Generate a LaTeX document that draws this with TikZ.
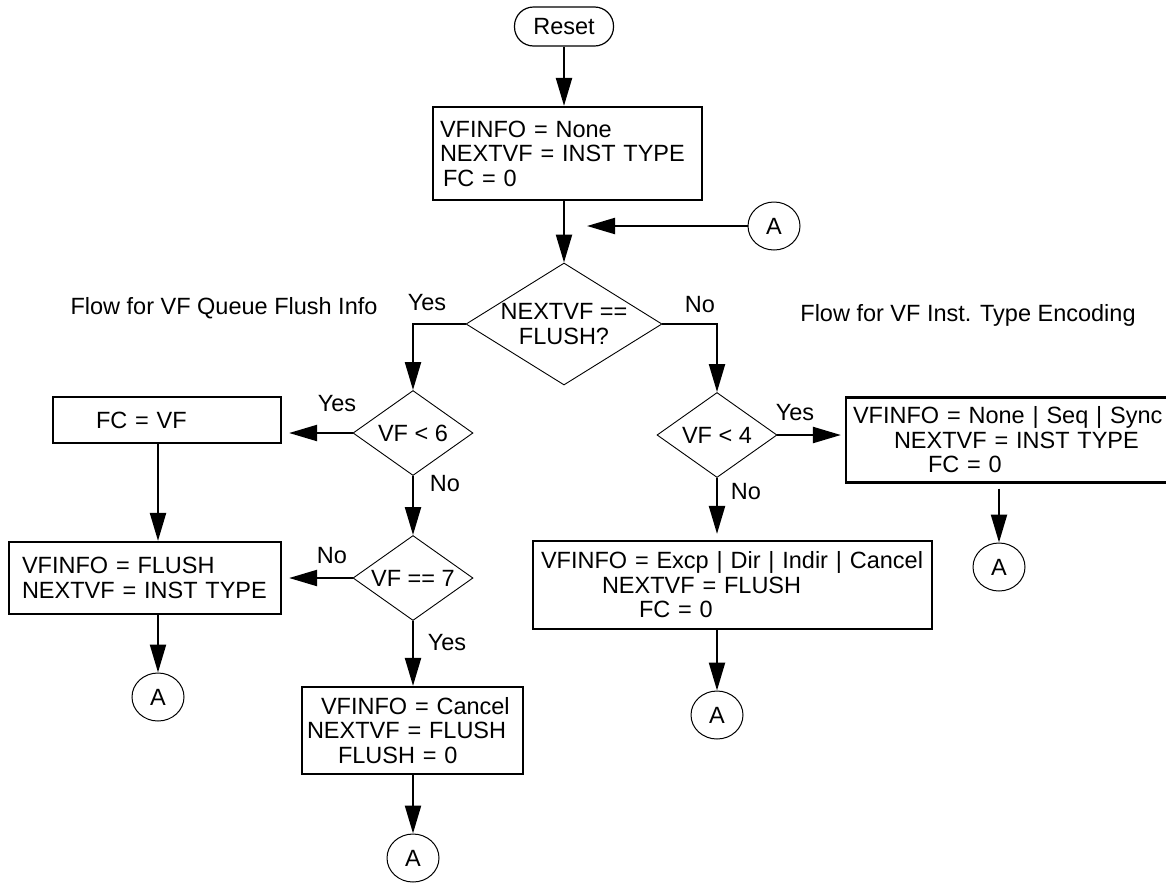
\documentclass[tikz,border=0pt]{standalone}
\usepackage{fontspec}
\setmainfont{Liberation Sans}
\usetikzlibrary{arrows.meta, shapes.geometric, calc}

% push a box line to the right by #1 points
\newcommand{\pushin}[1]{\hspace*{#1pt}}

\tikzset{
    flowarrow/.style={-{Triangle[length=28pt, width=16pt]}, line width=2.2pt},
    procbox/.style={draw, rectangle, line width=2.2pt, align=left, inner ysep=0pt},
    decide/.style={draw, diamond, aspect=1.4, line width=0.9pt, align=center, inner sep=0pt},
    joint/.style={draw, ellipse, line width=1pt, minimum width=52pt, minimum height=48pt, inner sep=0pt},
    lbl/.style={inner sep=0pt}
}

\begin{document}
\begin{tikzpicture}[x=1pt, y=-1pt, font=\fontsize{23.5}{24.5}\selectfont]
    % Same frame as the original page
    \useasboundingbox (0, 0) rectangle (1166, 884);

    % ----------------------------------------------------
    % TOP: Reset and common start
    % ----------------------------------------------------
    \node[draw, line width=1.2pt, rounded corners=19pt, minimum width=99pt, minimum height=39pt, inner sep=0pt] (reset) at (564, 26.5) {Reset};

    \node[procbox, text width=255pt, inner xsep=7pt, minimum height=93pt] (init) at (567.5, 153.5)
        {VFINFO = None\\NEXTVF = INST TYPE\\\pushin{3}FC = 0};

    \node[joint] (aback) at (774, 226) {A};
    \coordinate (merge) at (587, 226);

    \node[decide, aspect=1.6, minimum width=196pt, minimum height=122pt] (flushq) at (564, 324) {NEXTVF ==\\FLUSH?};

    \draw[flowarrow] (reset) -- (reset |- init.north);
    \draw[flowarrow] (init.south -| flushq) -- (flushq);
    \draw[flowarrow] (aback) -- (merge);

    % ----------------------------------------------------
    % LEFT: Flow for VF Queue Flush Info
    % ----------------------------------------------------
    \node[lbl] (titleleft) at (224, 308) {Flow for VF Queue Flush Info};

    \node[decide, minimum width=120pt, minimum height=85pt] (lt6) at (413, 433) {VF < 6};
    \node[decide, minimum width=120pt, minimum height=85pt] (eq7) at (413, 578) {VF == 7};

    \node[procbox, text width=142pt, inner xsep=43pt, minimum height=46pt] (setfc) at (167, 420) {FC = VF};
    \node[procbox, text width=254pt, inner xsep=9pt, minimum height=72pt] (setflush) at (145, 578)
        {\pushin{4}VFINFO = FLUSH\\\pushin{4}NEXTVF = INST TYPE};
    \node[procbox, text width=211pt, inner xsep=5pt, minimum height=87pt] (setcancel) at (412.5, 730.5)
        {\pushin{14}VFINFO = Cancel\\NEXTVF = FLUSH\\\pushin{31}FLUSH = 0};

    \node[joint] (aflush) at (158, 697) {A};
    \node[joint] (acancel) at (413, 858) {A};

    \draw[flowarrow] (flushq.west) -| (lt6);
    \draw[flowarrow, shorten >=7pt] (lt6.west) -- (lt6.west -| setfc.east);
    \draw[flowarrow] (lt6) -- (eq7);
    \draw[flowarrow, shorten >=7pt] (eq7.west) -- (eq7.west -| setflush.east);
    \draw[flowarrow] (setfc.south -| aflush) -- (setflush.north -| aflush);
    \draw[flowarrow] (setflush.south -| aflush) -- (aflush);
    \draw[flowarrow] (eq7) -- (eq7 |- setcancel.north);
    \draw[flowarrow] (setcancel.south -| acancel) -- (acancel);

    \node[lbl] (yesq) at (427, 303) {Yes};
    \node[lbl] (yes6) at (337, 404) {Yes};
    \node[lbl] (no6) at (445, 484) {No};
    \node[lbl] (no7) at (332, 556) {No};
    \node[lbl] (yes7) at (447, 643) {Yes};

    % ----------------------------------------------------
    % RIGHT: Flow for VF Inst. Type Encoding
    % ----------------------------------------------------
    \node[lbl] (titleright) at (968, 315) {Flow for VF Inst. Type Encoding};

    \node[decide, minimum width=120pt, minimum height=85pt] (lt4) at (717, 435) {VF < 4};

    \node[procbox, text width=314pt, inner xsep=4pt, minimum height=85pt] (setsync) at (1007, 440)
        {\pushin{3}VFINFO = None | Seq | Sync\\\pushin{44}NEXTVF = INST TYPE\\\pushin{78}FC = 0};
    \node[procbox, text width=389pt, inner xsep=5pt, minimum height=88pt] (setexcp) at (732.5, 585)
        {\pushin{3}VFINFO = Excp | Dir | Indir | Cancel\\\pushin{64}NEXTVF = FLUSH\\\pushin{101}FC = 0};

    \node[joint] (async) at (999, 567) {A};
    \node[joint] (aexcp) at (717, 715) {A};

    \draw[flowarrow] (flushq.east) -| (lt4);
    \draw[flowarrow, shorten >=4pt] (lt4.east) -- (lt4.east -| setsync.west);
    \draw[flowarrow, shorten >=6pt] (lt4) -- (lt4 |- setexcp.north);
    \draw[flowarrow] ([yshift=-5pt]setsync.south -| async) -- (async);
    \draw[flowarrow] (setexcp.south -| aexcp) -- (aexcp);

    \node[lbl] (noq) at (700, 305) {No};
    \node[lbl] (yes4) at (795, 413) {Yes};
    \node[lbl] (no4) at (746, 492) {No};

\end{tikzpicture}
\end{document}
